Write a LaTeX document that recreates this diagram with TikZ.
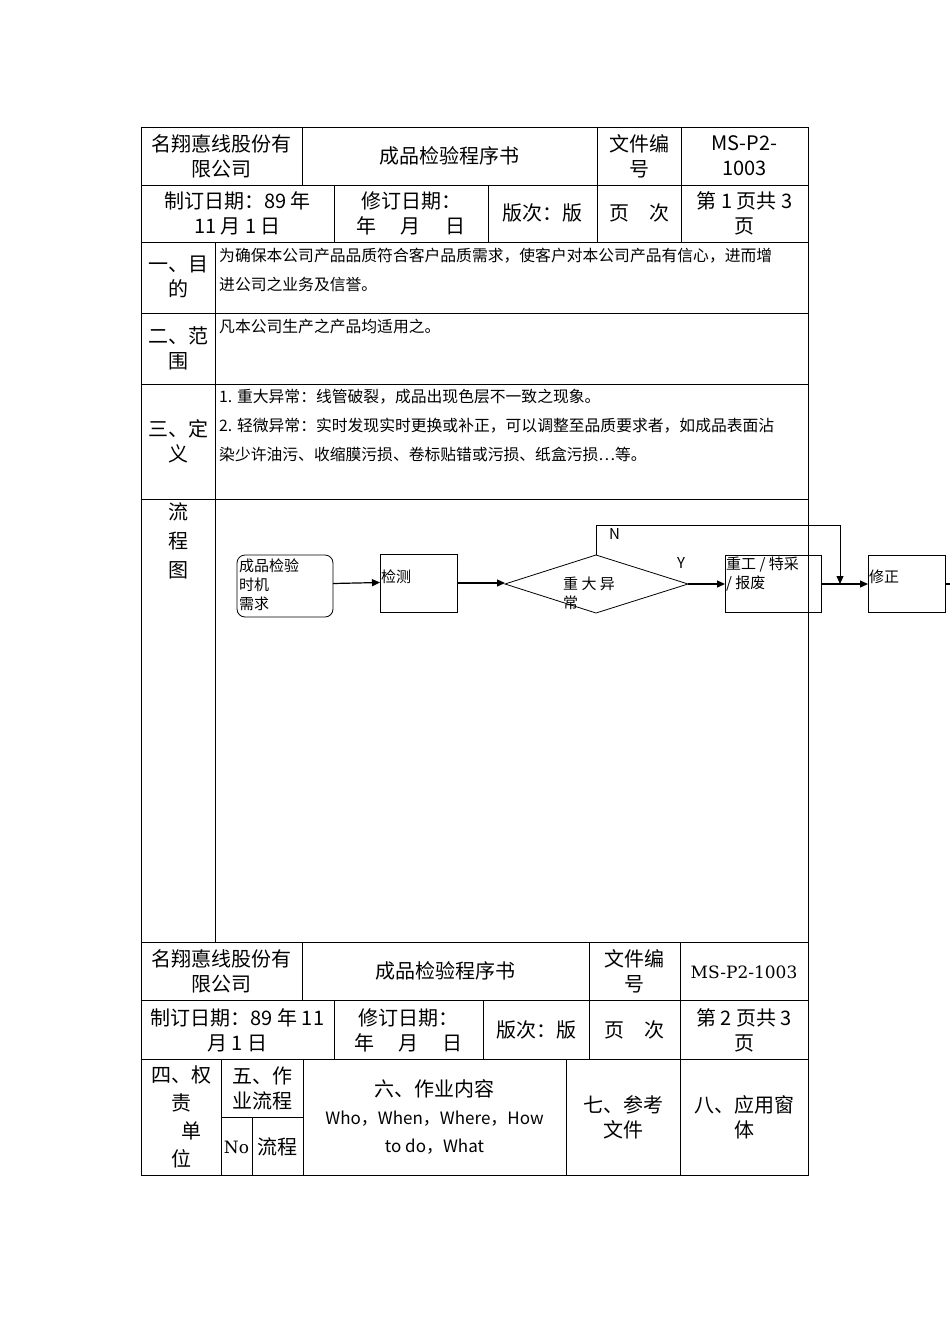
\documentclass[tikz,border=0pt]{standalone}
\usepackage{fontspec}
\setmainfont{DejaVu Serif}
\newfontfamily\cjk{Noto Sans CJK SC}
\usetikzlibrary{arrows.meta}
\begin{document}
\begin{tikzpicture}[x=1pt,y=-1pt,
  ln/.style={draw=black,line width=0.7pt},
  big/.style={font=\cjk\fontsize{20}{25}\selectfont,align=center,inner sep=0pt},
  sm/.style={font=\cjk\fontsize{15.8}{29}\selectfont,align=left,inner sep=0pt,anchor=north west},
  fbox/.style={draw=black,line width=0.8pt,inner sep=0pt},
  arr/.style={line width=1.2pt,-{Triangle[length=8pt,width=7pt]}},
  ft/.style={font=\cjk\fontsize{15}{19}\selectfont,align=left,inner sep=1pt,anchor=north west}]
\useasboundingbox (0,0) rectangle (950,1344);
% top table
\draw[ln] (141,127) rectangle (808,942);
\foreach \y in {185,242,313,384,499} \draw[ln] (141,\y) -- (808,\y);
\foreach \x in {302,597,681} \draw[ln] (\x,127) -- (\x,185);
\foreach \x in {334,488,597,681} \draw[ln] (\x,185) -- (\x,242);
\draw[ln] (215,242) -- (215,942);
\node[big] (a1) at (221.5,156) {名翔悳线股份有\\限公司};
\node[big] (a2) at (449.5,156) {成品检验程序书};
\node[big] (a3) at (639,156) {文件编\\号};
\node[big] (a4) at (744.5,156) {MS-P2-\\1003};
\node[big] (b1) at (237.5,213) {制订日期：89 年\\11 月 1 日};
\node[big] (b2) at (411,213) {修订日期：\\年\quad\ 月\quad\ 日};
\node[big] (b3) at (542.5,213) {版次：版};
\node[big] (b4) at (639,213) {页\quad 次};
\node[big] (b5) at (744.5,213) {第 1 页共 3\\页};
\node[big] (s1) at (178,277) {一、目\\的};
\node[big] (s2) at (178,348) {二、范\\围};
\node[big] (s3) at (178,441) {三、定\\义};
\node[big,anchor=north,font=\cjk\fontsize{20}{29}\selectfont] (s4) at (178,502) {流\\程\\图};
\node[sm] (t1) at (219,248) {为确保本公司产品品质符合客户品质需求，使客户对本公司产品有信心，进而增\\进公司之业务及信誉。};
\node[sm] (t2) at (219,319) {凡本公司生产之产品均适用之。};
\node[sm] (t3) at (219,389) {1. 重大异常：线管破裂，成品出现色层不一致之现象。\\2. 轻微异常：实时发现实时更换或补正，可以调整至品质要求者，如成品表面沾\\染少许油污、收缩膜污损、卷标贴错或污损、纸盒污损…等。};
% flowchart
\draw[fbox,rounded corners=8pt] (237,555) rectangle (333,617);
\node[ft] (f1) at (238,558) {成品检验\\时机\\需求};
\draw[fbox] (380,554) rectangle (457,612);
\node[ft] (f2) at (380,569) {检测};
\draw[fbox] (505,584) -- (596,555) -- (688,584) -- (596,613) -- cycle;
\node[ft] (f3) at (562,576) {重 大 异};
\node[ft] (f3b) at (562,595) {常};
\draw[fbox] (725,555) rectangle (821,612);
\node[ft] (f4) at (725,556) {重工 / 特采\\/ 报废};
\draw[fbox] (868,555) rectangle (945,612);
\node[ft] (f5) at (868,569) {修正};
\draw[arr] (333,583.5) -- (380,582.5);
\draw[arr] (457,583) -- (505,583);
\draw[arr] (688,584) -- (725,584);
\draw[arr] (821,584) -- (868,584);
\draw[line width=0.8pt] (596,555) -- (596,525) -- (840,525);
\draw[line width=0.8pt,-{Triangle[length=8pt,width=7pt]}] (840,525) -- (840,584);
\draw[line width=1.2pt] (945,584) -- (950,584);
\node[ft] (n) at (608,527) {N};
\node[ft] (yy) at (676,556) {Y};
% second table
\draw[ln] (141,942) rectangle (808,1175);
\foreach \y in {1000,1059} \draw[ln] (141,\y) -- (808,\y);
\foreach \x in {302,589,680} \draw[ln] (\x,942) -- (\x,1000);
\foreach \x in {334,483,589,680} \draw[ln] (\x,1000) -- (\x,1059);
\foreach \x in {221,303,566,680} \draw[ln] (\x,1059) -- (\x,1175);
\draw[ln] (221,1117) -- (303,1117);
\draw[ln] (252,1117) -- (252,1175);
\node[big] (c1) at (221.5,971) {名翔悳线股份有\\限公司};
\node[big] (c2) at (445.5,971) {成品检验程序书};
\node[big] (c3) at (634.5,971) {文件编\\号};
\node[big,font=\fontsize{17}{21}\selectfont] (c4) at (744,972) {MS-P2-1003};
\node[big] (e1) at (237.5,1030) {制订日期：89 年 11\\月 1 日};
\node[big] (e2) at (408.5,1030) {修订日期：\\年\quad\ 月\quad\ 日};
\node[big] (e3) at (536,1030) {版次：版};
\node[big] (e4) at (634.5,1030) {页\quad 次};
\node[big] (e5) at (744,1030) {第 2 页共 3\\页};
\node[big,font=\cjk\fontsize{20}{28}\selectfont] (g1) at (181,1117) {四、权\\责\\\quad 单\\位};
\node[big] (g2) at (262,1088) {五、作\\业流程};
\node[big,font=\fontsize{17}{21}\selectfont] (g3) at (236.5,1147) {No};
\node[big] (g4) at (277.5,1147) {流程};
\node[big,font=\cjk\fontsize{20}{28}\selectfont] (g5) at (434.5,1117) {六、作业内容\\{\fontsize{17}{28}\selectfont Who，When，Where，How}\\{\fontsize{17}{28}\selectfont to do，What}};
\node[big] (g6) at (623,1117) {七、参考\\文件};
\node[big] (g7) at (744,1117) {八、应用窗\\体};
\end{tikzpicture}
\end{document}
